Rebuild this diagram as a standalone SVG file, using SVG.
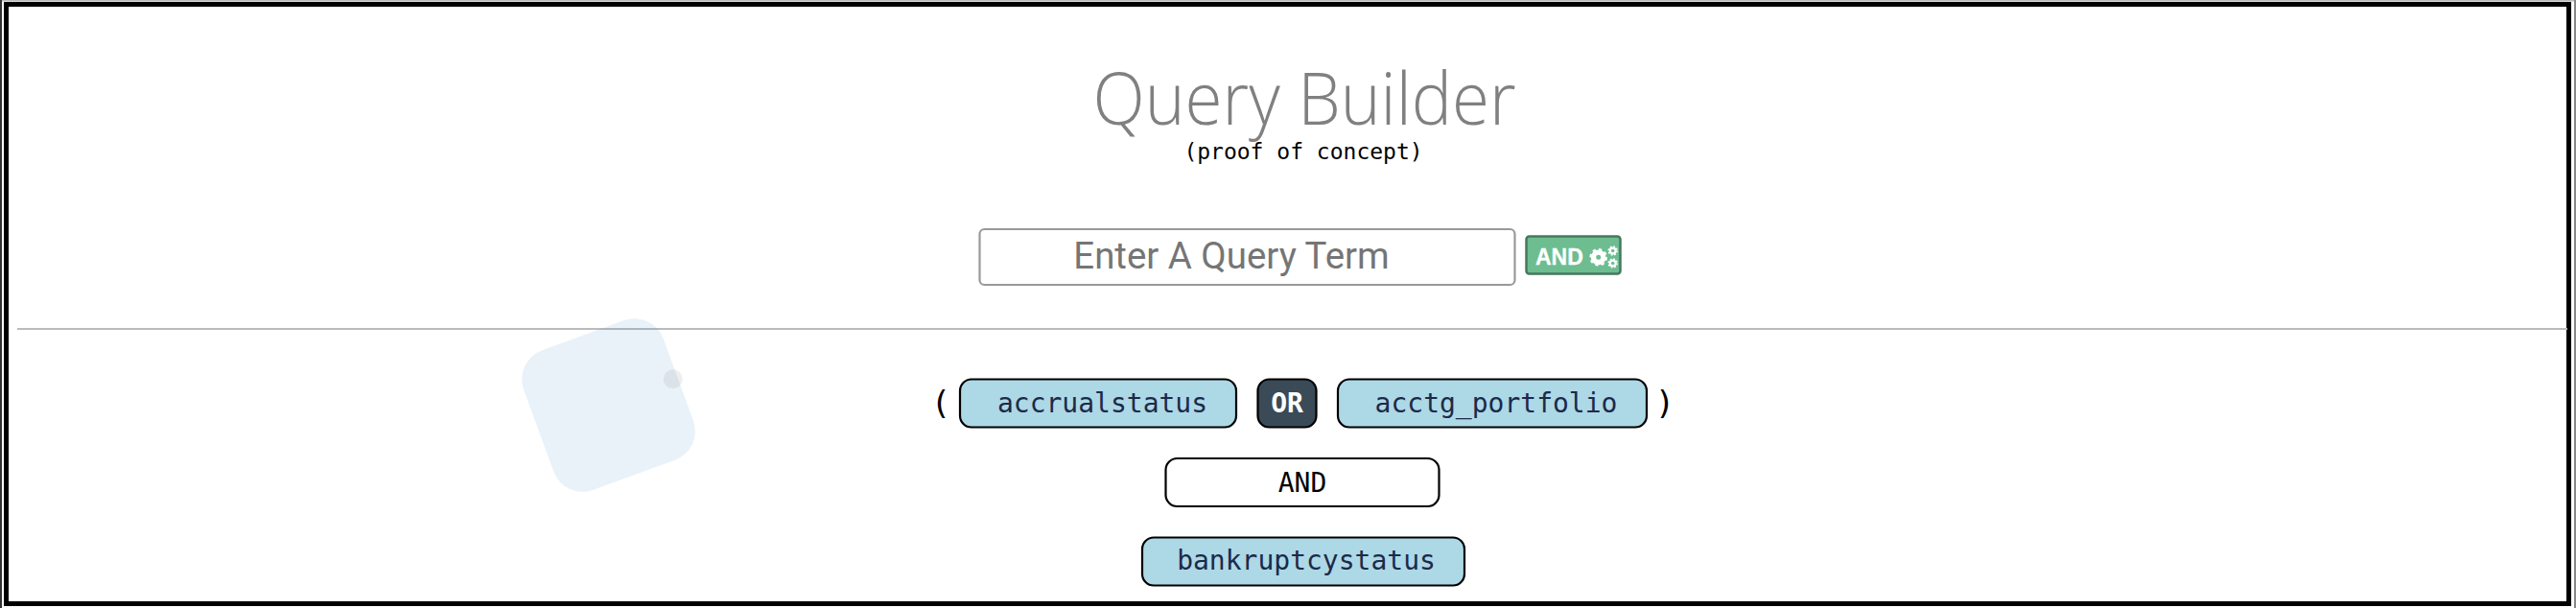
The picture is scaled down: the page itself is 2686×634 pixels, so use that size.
<svg xmlns="http://www.w3.org/2000/svg" width="2686" height="634" viewBox="0 0 2686 634">
<style>
.mono{font-family:"DejaVu Sans Mono",monospace;font-size:28px;text-anchor:middle}
.paren{font-size:34px;font-weight:400;fill:#000}
.chip{fill:#add8e6;stroke:#000;stroke-width:2.2}
.term{fill:#1b2a4a}
</style>
<rect width="2686" height="634" fill="#fff"/>
<g id="frame">
<rect x="0" y="0" width="2686" height="1.5" fill="#bbb"/>
<rect x="0" y="0" width="2" height="634" fill="#333"/>
<rect x="6.5" y="4.5" width="2672" height="625" fill="none" stroke="#000" stroke-width="5"/>
<rect x="2684" y="0" width="2" height="634" fill="#888"/>
</g>
<g id="decor">
<rect x="18" y="342" width="2659" height="2" fill="#bbb"/>
<rect x="557" y="345" width="155" height="155" rx="32" fill="#2a7fc9" fill-opacity=".1" transform="rotate(-20 634.5 422.5)"/>
<circle cx="701.7" cy="395.3" r="10" fill="#8a8a8a" fill-opacity=".15"/>
</g>
<g id="title">
<text x="1360" y="130" text-anchor="middle" font-family="Open Sans,sans-serif" font-weight="300" font-size="76" fill="#808080" textLength="441" lengthAdjust="spacingAndGlyphs">Query Builder</text>
<text x="1359" y="166" text-anchor="middle" font-family="DejaVu Sans Mono,monospace" font-size="23" fill="#000">(proof of concept)</text>
</g>
<g id="query-input">
<rect x="1021.5" y="239" width="558" height="58" rx="5" fill="#fff" stroke="#999" stroke-width="2.2"/>
<text x="1284" y="279.5" text-anchor="middle" font-family="Roboto,sans-serif" font-size="38.4" fill="#757575">Enter A Query Term</text>
</g>
<g id="and-button">
<rect x="1591.5" y="246.5" width="98" height="39" rx="3" fill="#6dbd91" stroke="#47785f" stroke-width="2.5"/>
<text x="1601" y="276" font-family="Liberation Sans,sans-serif" font-weight="700" font-size="23" fill="#fff" stroke="#fff" stroke-width=".3">AND</text>
<g fill="none" stroke="#fff">
<circle cx="1666.7" cy="268.3" r="5.2" stroke-width="5.4"/>
<circle cx="1666.7" cy="268.3" r="8" stroke-width="2.6" stroke-dasharray="3.2 3.08"/>
<circle cx="1681.7" cy="261.5" r="2.9" stroke-width="2.2"/>
<circle cx="1681.7" cy="261.5" r="4.5" stroke-width="1.5" stroke-dasharray="1.8 1.73"/>
<circle cx="1681.7" cy="274.5" r="2.9" stroke-width="2.2"/>
<circle cx="1681.7" cy="274.5" r="4.5" stroke-width="1.5" stroke-dasharray="1.8 1.73"/>
</g>
</g>
<g id="paren-open"><text class="mono paren" x="981" y="432">(</text></g>
<g id="term-accrualstatus">
<rect class="chip" x="1001" y="395.5" width="288" height="50" rx="12"/>
<text class="mono term" x="1149.5" y="430">accrualstatus</text>
</g>
<g id="op-or">
<rect x="1311.5" y="395.5" width="61" height="50" rx="12" fill="#3a4a56" stroke="#000" stroke-width="2.2"/>
<text class="mono" x="1342" y="430" fill="#fff" font-weight="700">OR</text>
</g>
<g id="term-acctg-portfolio">
<rect class="chip" x="1395" y="395.5" width="322" height="50" rx="12"/>
<text class="mono term" x="1560" y="430">acctg_portfolio</text>
</g>
<g id="paren-close"><text class="mono paren" x="1736" y="432">)</text></g>
<g id="op-and">
<rect x="1215.5" y="478" width="285" height="50" rx="12" fill="#fff" stroke="#000" stroke-width="2.2"/>
<text class="mono" x="1358" y="512.5" fill="#000">AND</text>
</g>
<g id="term-bankruptcystatus">
<rect class="chip" x="1191" y="560.5" width="336" height="50" rx="12"/>
<text class="mono term" x="1362" y="594">bankruptcystatus</text>
</g>
<g id="connectors"></g>
</svg>
